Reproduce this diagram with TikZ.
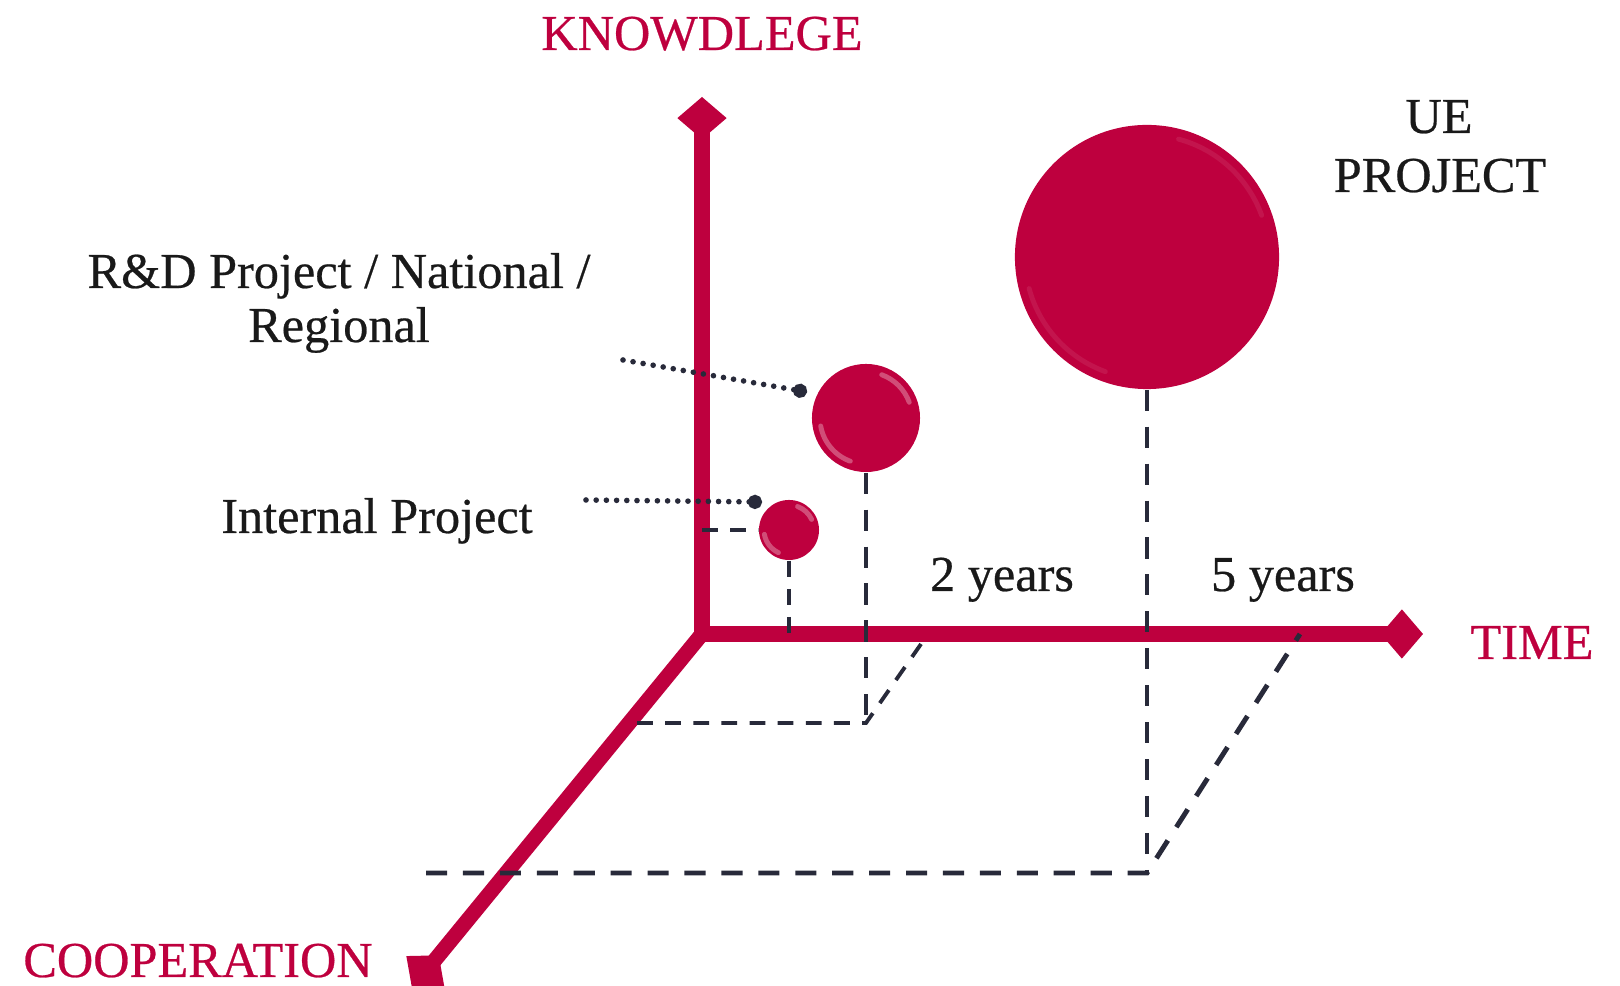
\documentclass[tikz,border=0pt]{standalone}
\usepackage{fontspec}
\setmainfont{Liberation Serif}[FakeBold=0.5]
\usetikzlibrary{arrows.meta}
\definecolor{crimson}{RGB}{190,0,62}
\definecolor{inkdash}{RGB}{40,42,58}
\newcommand\lblfont{\fontsize{14.3pt}{17pt}\selectfont}
\tikzset{
  axis/.style={crimson, line width=4.3pt, line join=miter},
  ball/.style={circle, fill=crimson, inner sep=0pt},
  shine/.style={white, line width=1.4pt, opacity=.3, line cap=round},
  guide/.style={inkdash, line width=1.4pt, dash pattern=on 6pt off 4.5pt},
  guidethin/.style={inkdash, line width=1.1pt, dash pattern=on 4.5pt off 3.5pt},
  leader/.style={inkdash, line width=1.6pt, line cap=round, dash pattern=on 0pt off 2.9pt, -{Circle[length=4pt]}},
  lbl/.style={font=\lblfont, text=black!90, anchor=base, inner sep=0pt},
  axislbl/.style={lbl, text=crimson}
}
\begin{document}
\begin{tikzpicture}[x=0.01cm, y=-0.01cm]
\useasboundingbox (0,0) rectangle (1620,986);
% axes
\coordinate (o) at (702,634);
\coordinate (kntip) at (702,97);
\coordinate (titip) at (1423,634);
\coordinate (cotip) at (412,988);
\draw[axis, {Diamond[length=12pt,width=14pt]}-{Diamond[length=12pt,width=14pt]}] (kntip) -- (o) -- (titip);
\draw[axis, -{Diamond[length=12pt,width=14pt]}] (o) -- (cotip);
\node[axislbl] (knlbl) at (702,50) {KNOWDLEGE};
\node[axislbl] (tilbl) at (1532,659) {TIME};
\node[axislbl] (colbl) at (198,977) {COOPERATION};
% projects
\node[ball, minimum size=2.64cm] (ueball) at (1147,257) {};
\node[ball, minimum size=1.08cm] (rdball) at (866,418) {};
\node[ball, minimum size=0.6cm] (inball) at (789,530) {};
\draw[shine, opacity=.08] ([shift={(110:122)}]ueball.center) arc (110:165:122);
\draw[shine, opacity=.08] ([shift={(285:122)}]ueball.center) arc (285:340:122);
\draw[shine] ([shift={(110:46)}]rdball.center) arc (110:170:46);
\draw[shine] ([shift={(290:46)}]rdball.center) arc (290:340:46);
\draw[shine] ([shift={(115:25)}]inball.center) arc (115:170:25);
\draw[shine] ([shift={(290:25)}]inball.center) arc (290:335:25);
% guide lines
\coordinate (rdfoot) at (866,723);
\coordinate (rdleft) at (637,723);
\coordinate (rd2y) at (928,634);
\coordinate (uefoot) at (1147,873);
\coordinate (ueleft) at (426,873);
\coordinate (ue5y) at (1300,634);
\draw[guidethin] (o |- inball.west) -- (inball.west);
\draw[guidethin] (inball.south) -- (inball.south |- o);
\draw[guide] (rdball.south) -- (rdfoot);
\draw[guidethin] (rdleft) -- (rdfoot) -- (rd2y);
\draw[guide] (ueball.south) -- (uefoot);
\draw[guide] (ueleft) -- (uefoot) -- (ue5y);
% leaders
\coordinate (rdlead) at (623,360);
\coordinate (rdmark) at (807,392);
\coordinate (inlead) at (586,500);
\coordinate (inmark) at (762,502);
\draw[leader] (rdlead) -- (rdmark);
\draw[leader] (inlead) -- (inmark);
% labels
\node[lbl] (uelbl) at (1439,133) {UE};
\node[lbl] (uelbl2) at (1440,192) {PROJECT};
\node[lbl] (rdlbl) at (339,288) {R\&D Project / National /};
\node[lbl] (rdlbl2) at (339,342) {Regional};
\node[lbl] (inlbl) at (377,533) {Internal Project};
\node[lbl] (y2lbl) at (1002,591) {2 years};
\node[lbl] (y5lbl) at (1283,591) {5 years};
\end{tikzpicture}
\end{document}
